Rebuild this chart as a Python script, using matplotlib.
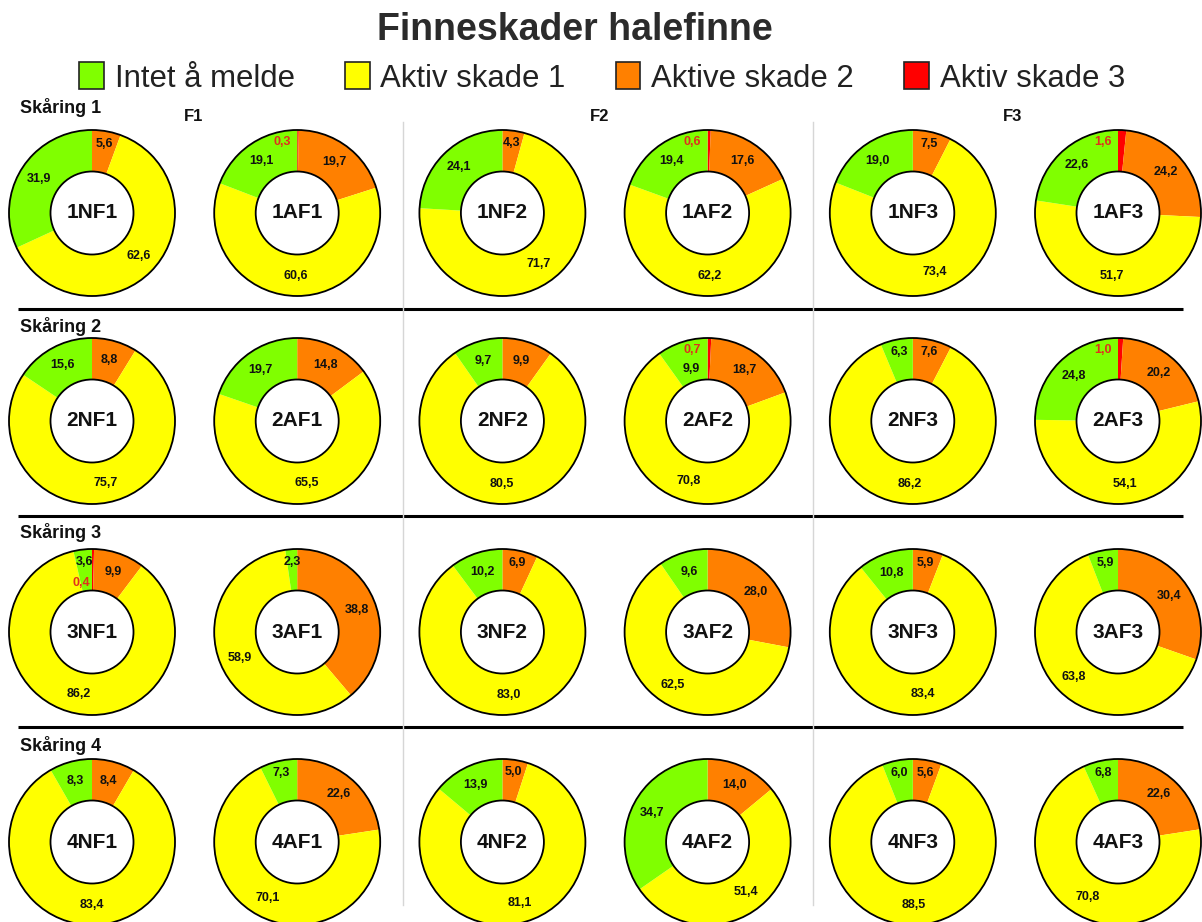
import numpy as np
import matplotlib.pyplot as plt
from matplotlib.patches import Patch, Circle

plt.rcParams['font.family'] = ['Liberation Sans', 'DejaVu Sans']

# skåringer (rader) og fiskegrupper (kolonnepar)
skaring = ["Skåring 1", "Skåring 2", "Skåring 3", "Skåring 4"]
fisk = ["F1", "F2", "F3"]
diagram = [
    ["1NF1", "1AF1", "1NF2", "1AF2", "1NF3", "1AF3"],
    ["2NF1", "2AF1", "2NF2", "2AF2", "2NF3", "2AF3"],
    ["3NF1", "3AF1", "3NF2", "3AF2", "3NF3", "3AF3"],
    ["4NF1", "4AF1", "4NF2", "4AF2", "4NF3", "4AF3"],
]

# andel fisk (%) i hver kategori
intet = [
    [31.9, 19.1, 24.1, 19.4, 19.0, 22.6],
    [15.6, 19.7, 9.7, 9.9, 6.3, 24.8],
    [3.6, 2.3, 10.2, 9.6, 10.8, 5.9],
    [8.3, 7.3, 13.9, 34.7, 6.0, 6.8],
]
aktiv1 = [
    [62.6, 60.6, 71.7, 62.2, 73.4, 51.7],
    [75.7, 65.5, 80.5, 70.8, 86.2, 54.1],
    [86.2, 58.9, 83.0, 62.5, 83.4, 63.8],
    [83.4, 70.1, 81.1, 51.4, 88.5, 70.8],
]
aktiv2 = [
    [5.6, 19.7, 4.3, 17.6, 7.5, 24.2],
    [8.8, 14.8, 9.9, 18.7, 7.6, 20.2],
    [9.9, 38.8, 6.9, 28.0, 5.9, 30.4],
    [8.4, 22.6, 5.0, 14.0, 5.6, 22.6],
]
aktiv3 = [
    [0.0, 0.3, 0.0, 0.6, 0.0, 1.6],
    [0.0, 0.0, 0.0, 0.7, 0.0, 1.0],
    [0.4, 0.0, 0.0, 0.0, 0.0, 0.0],
    [0.0, 0.0, 0.0, 0.0, 0.0, 0.0],
]

kategorier = ["Intet å melde", "Aktiv skade 1", "Aktive skade 2", "Aktiv skade 3"]
farger = ["#80ff00", "#ffff00", "#ff8000", "#ff0000"]

W, H = 1202, 922
fig = plt.figure(figsize=(W / 100, H / 100), dpi=100)
ax = fig.add_axes([0, 0, 1, 1])

R = 83
hull = 41.5
xs = [92 + 205.2 * k for k in range(6)]
ys = [213, 421, 632, 842]

for i in range(4):
    for j in range(6):
        cx, cy = xs[j], H - ys[i]
        # med klokka fra kl. 12: skade 3, skade 2, skade 1, intet
        verdier = [aktiv3[i][j], aktiv2[i][j], aktiv1[i][j], intet[i][j]]
        fargeliste = [farger[3], farger[2], farger[1], farger[0]]
        wedges, _ = ax.pie(verdier, colors=fargeliste, startangle=90, counterclock=False,
                           center=(cx, cy), radius=R,
                           wedgeprops=dict(width=R - hull, linewidth=0))
        ax.add_patch(Circle((cx, cy), R, fill=False, ec="black", lw=1.3))
        ax.add_patch(Circle((cx, cy), hull, fill=False, ec="black", lw=1.3))
        ax.text(cx, cy, diagram[i][j], ha="center", va="center",
                fontsize=15, fontweight="bold", color="#111111")

        har_rod = aktiv3[i][j] > 0
        for k, (w, v) in enumerate(zip(wedges, verdier)):
            if v <= 0:
                continue
            tekst = f"{v:.1f}".replace(".", ",")
            farge = "#111111"
            if k == 0:
                # små røde sektorer merkes litt til venstre for toppen
                vinkel = 102
                r = 0.88 * R if intet[i][j] >= 5 else 0.6 * R
                farge = "#e0301e"
            else:
                vinkel = (w.theta1 + w.theta2) / 2
                if k == 3 and har_rod and 5 <= v < 12:
                    r = 0.66 * R
                elif v < 8:
                    r = 0.85 * R
                else:
                    r = 0.76 * R
            a = np.deg2rad(vinkel)
            ax.text(cx + r * np.cos(a), cy + r * np.sin(a), tekst, ha="center", va="center",
                    fontsize=9, fontweight="bold", color=farge)

# skillelinjer
for yl in [309, 516, 727]:
    ax.plot([18, 1183], [H - yl, H - yl], color="black", lw=2.2, solid_capstyle="butt")
for xl in [403, 813]:
    ax.plot([xl, xl], [H - 122, H - 905], color="#d6d6d6", lw=1)

# radetiketter og gruppeoverskrifter
for i, ty in enumerate([108, 327, 533, 745]):
    ax.text(20, H - ty, skaring[i], ha="left", va="center", fontsize=13,
            fontweight="bold", color="#111111")
for x, f in zip([194, 600, 1013], fisk):
    ax.text(x, H - 117, f, ha="center", va="center", fontsize=12,
            fontweight="bold", color="#111111")

ax.set_xlim(0, W)
ax.set_ylim(0, H)
ax.set_aspect("auto")
ax.axis("off")

fig.text(575 / W, 1 - 30 / H, "Finneskader halefinne", ha="center", va="center",
         fontsize=27, fontweight="bold", color="#2b2b2b")

handles = [Patch(facecolor=c, edgecolor="#222222", lw=1.2) for c in farger]
fig.legend(handles, kategorier, loc="center", bbox_to_anchor=(602 / W, 1 - 78 / H),
           ncol=4, frameon=False, fontsize=22.4, handlelength=0.8, handleheight=0.95,
           handletextpad=0.35, columnspacing=1.6, labelcolor="#222222")

fig.savefig("out.png", dpi=100)
